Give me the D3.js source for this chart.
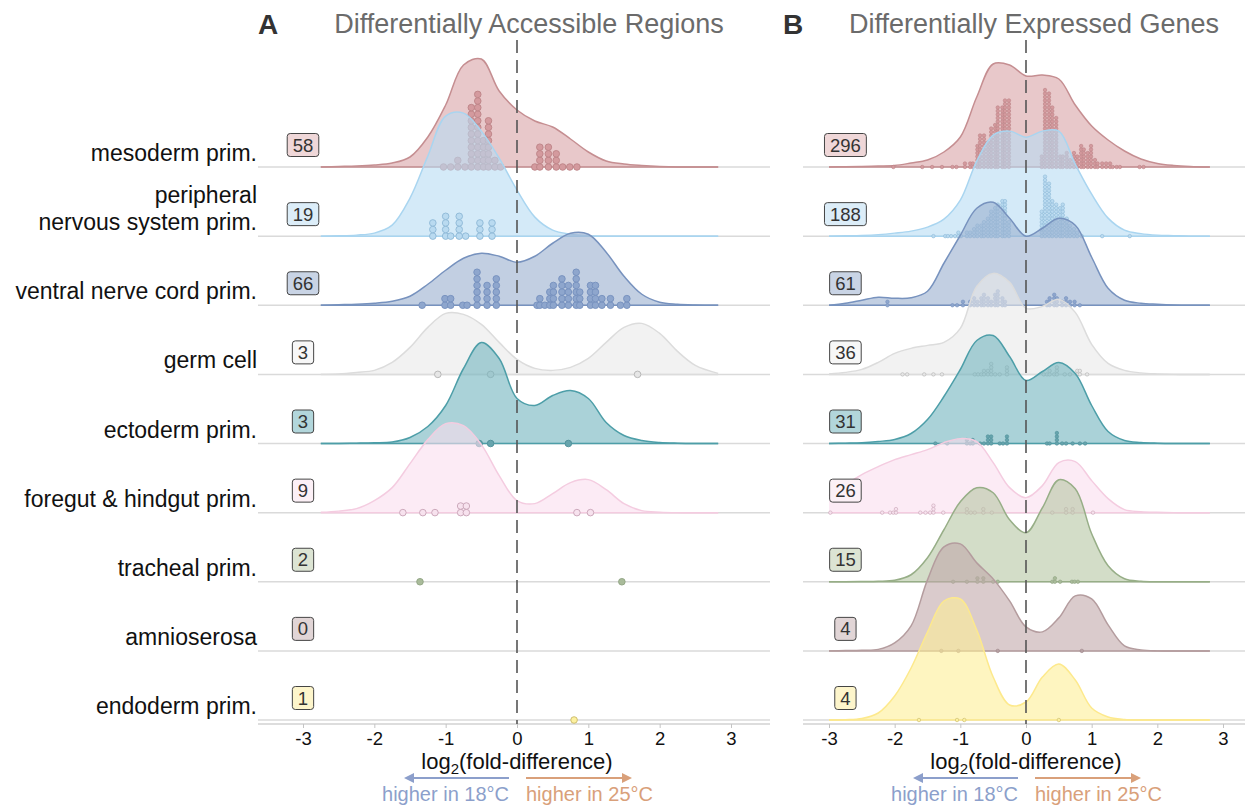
<!DOCTYPE html>
<html>
<head>
<meta charset="utf-8">
<script src="https://cdn.jsdelivr.net/npm/d3@7"></script>
<style>
  body { margin: 0; background: #fff; }
  text { font-family: "Liberation Sans", Arial, sans-serif; }
</style>
</head>
<body>
<svg id="chart" width="1248" height="805"></svg>
<script>
// ---- data ----
const categories = ["mesoderm", "pns", "vnc", "germ", "ectoderm", "foregut", "tracheal", "amnioserosa", "endoderm"];
const rowLabels = [["mesoderm prim."], ["peripheral", "nervous system prim."], ["ventral nerve cord prim."],
  ["germ cell"], ["ectoderm prim."], ["foregut & hindgut prim."], ["tracheal prim."], ["amnioserosa"], ["endoderm prim."]];
const tickLabels = [-3, -2, -1, 0, 1, 2, 3];

const countsA = [58, 19, 66, 3, 3, 9, 2, 0, 1];
const countsB = [296, 188, 61, 36, 31, 26, 15, 4, 4];

// density evaluated on these log2 fold-difference points
const gridA = [-2.75, -2.5, -2.25, -2, -1.75, -1.5, -1.25, -1, -0.75, -0.5, -0.25, 0,
  0.25, 0.5, 0.75, 1, 1.25, 1.5, 1.75, 2, 2.25, 2.5, 2.82];
const gridB = [-3, -2.75, -2.5, -2.25, -2, -1.75, -1.5, -1.25, -1, -0.75, -0.5, -0.25, 0,
  0.25, 0.5, 0.75, 1, 1.25, 1.5, 1.75, 2, 2.25, 2.5, 2.8];

const densityA = [
  [0, 0.005, 0.01, 0.02, 0.04, 0.10, 0.30, 0.62, 1.02, 1.08, 0.76, 0.57, 0.46, 0.40, 0.28, 0.15, 0.06, 0.03, 0.015, 0.005, 0, 0, 0],
  [0, 0.003, 0.01, 0.03, 0.11, 0.38, 0.80, 1.20, 1.23, 1.05, 0.78, 0.46, 0.19, 0.06, 0.02, 0.005, 0, 0, 0, 0, 0, 0, 0],
  [0, 0.005, 0.01, 0.02, 0.04, 0.09, 0.21, 0.35, 0.47, 0.52, 0.49, 0.43, 0.49, 0.62, 0.72, 0.71, 0.53, 0.29, 0.11, 0.03, 0.01, 0.003, 0],
  [0, 0.005, 0.02, 0.04, 0.12, 0.27, 0.47, 0.61, 0.60, 0.50, 0.32, 0.15, 0.06, 0.04, 0.07, 0.16, 0.32, 0.47, 0.51, 0.41, 0.23, 0.09, 0.01],
  [0, 0, 0.003, 0.007, 0.015, 0.06, 0.17, 0.38, 0.75, 1.01, 0.85, 0.45, 0.38, 0.48, 0.53, 0.45, 0.21, 0.08, 0.03, 0.01, 0.003, 0, 0],
  [0.003, 0.015, 0.04, 0.12, 0.25, 0.49, 0.73, 0.89, 0.87, 0.68, 0.37, 0.12, 0.09, 0.19, 0.30, 0.33, 0.23, 0.09, 0.02, 0.005, 0, 0, 0],
  null, null, null
];
const densityB = [
  [0, 0.003, 0.005, 0.01, 0.015, 0.04, 0.07, 0.15, 0.30, 0.70, 1.03, 1.02, 0.91, 0.92, 0.88, 0.62, 0.41, 0.27, 0.16, 0.08, 0.035, 0.015, 0.005, 0],
  [0, 0.003, 0.007, 0.015, 0.03, 0.05, 0.09, 0.17, 0.36, 0.75, 1.01, 1.05, 0.99, 1.05, 1.05, 0.72, 0.42, 0.18, 0.06, 0.025, 0.01, 0.005, 0, 0],
  [0, 0.02, 0.05, 0.08, 0.07, 0.075, 0.14, 0.42, 0.70, 0.97, 1.03, 0.87, 0.69, 0.77, 0.87, 0.80, 0.48, 0.17, 0.05, 0.02, 0.01, 0.003, 0, 0],
  [0.005, 0.02, 0.05, 0.12, 0.21, 0.26, 0.29, 0.32, 0.46, 0.88, 1.01, 0.92, 0.66, 0.68, 0.75, 0.62, 0.30, 0.11, 0.04, 0.015, 0.005, 0, 0, 0],
  [0, 0.003, 0.007, 0.02, 0.04, 0.10, 0.24, 0.47, 0.74, 1.03, 1.08, 0.87, 0.63, 0.72, 0.81, 0.70, 0.38, 0.12, 0.03, 0.01, 0.003, 0, 0, 0],
  [0.17, 0.28, 0.38, 0.46, 0.53, 0.58, 0.63, 0.70, 0.74, 0.71, 0.50, 0.25, 0.15, 0.27, 0.50, 0.51, 0.32, 0.14, 0.03, 0.01, 0.003, 0, 0, 0],
  [0, 0, 0.002, 0.005, 0.015, 0.07, 0.24, 0.52, 0.80, 0.94, 0.89, 0.62, 0.49, 0.74, 1.02, 0.93, 0.48, 0.16, 0.03, 0.005, 0, 0, 0, 0],
  [0, 0.003, 0.007, 0.015, 0.08, 0.25, 0.71, 1.04, 1.07, 0.88, 0.72, 0.50, 0.24, 0.19, 0.33, 0.55, 0.52, 0.26, 0.05, 0.01, 0, 0, 0, 0],
  [0, 0.003, 0.015, 0.07, 0.24, 0.52, 0.88, 1.19, 1.21, 0.90, 0.43, 0.15, 0.18, 0.43, 0.56, 0.40, 0.12, 0.03, 0.005, 0, 0, 0, 0, 0]
];

// dots: [log2 fold-difference, number stacked at that value]
const dotsA = [
  [[-1.03,1],[-0.93,1],[-0.83,2],[-0.73,1],[-0.64,10],[-0.55,12],[-0.47,5],[-0.40,8],[-0.31,2],[-0.23,1],
   [0.25,1],[0.32,4],[0.44,4],[0.55,3],[0.64,1],[0.74,1],[0.84,1]],
  [[-1.18,3],[-1.00,4],[-0.93,1],[-0.81,4],[-0.72,1],[-0.52,3],[-0.35,3]],
  [[-1.33,1],[-1.01,2],[-0.93,2],[-0.76,1],[-0.70,1],[-0.56,6],[-0.42,4],[-0.29,5],
   [0.28,1],[0.32,2],[0.39,1],[0.46,3],[0.51,4],[0.63,5],[0.72,4],[0.83,6],[0.88,3],[1.03,4],[1.10,4],[1.19,2],[1.31,2],[1.45,1],[1.54,2]],
  [[-1.11,1],[-0.37,1],[1.69,1]],
  [[-0.53,1],[-0.37,1],[0.72,1]],
  [[-1.60,1],[-1.32,1],[-1.15,1],[-0.79,2],[-0.71,2],[0.84,1],[1.03,1]],
  [[-1.36,1],[1.47,1]],
  [],
  [[0.80,1]]
];
const dotsB = [
  [[-2.02,1],[-1.58,1],[-1.43,1],[-1.28,1],[-1.12,1],[-1.06,1],[-0.93,2],[-0.85,2],[-0.81,2],[-0.74,7],[-0.70,10],
   [-0.64,10],[-0.58,8],[-0.53,12],[-0.47,13],[-0.43,18],[-0.36,18],[-0.32,20],[-0.26,20],
   [0.24,4],[0.29,23],[0.35,22],[0.40,18],[0.46,15],[0.52,4],[0.56,4],[0.62,5],[0.67,3],[0.73,5],[0.78,4],[0.84,7],
   [0.88,6],[0.94,5],[0.99,7],[1.05,3],[1.09,2],[1.16,2],[1.22,2],[1.28,2],[1.32,1],[1.38,1],[1.43,1],[1.73,1],[1.79,1]],
  [[-1.41,1],[-1.23,1],[-1.19,1],[-1.14,1],[-1.08,1],[-1.03,2],[-0.99,1],[-0.90,2],[-0.85,2],[-0.79,3],[-0.74,4],
   [-0.68,4],[-0.64,5],[-0.58,6],[-0.53,8],[-0.47,9],[-0.43,10],[-0.36,11],[-0.32,11],[-0.26,5],
   [0.24,8],[0.29,18],[0.35,16],[0.40,11],[0.46,10],[0.52,9],[0.56,10],[0.62,6],[0.67,4],[0.73,3],[0.78,2],[0.85,1],[1.16,1],[1.58,1]],
  [[-2.11,2],[-1.12,1],[-1.05,1],[-0.96,2],[-0.85,2],[-0.79,3],[-0.74,2],[-0.68,3],[-0.64,4],[-0.58,3],[-0.53,2],
   [-0.47,4],[-0.43,5],[-0.36,3],[-0.32,2],[0.32,2],[0.36,3],[0.43,4],[0.47,3],[0.55,2],[0.61,3],[0.67,2],[0.74,2],[0.82,1]],
  [[-1.88,1],[-1.81,1],[-1.55,1],[-1.41,1],[-1.28,1],[-0.78,1],[-0.73,1],[-0.68,1],[-0.64,2],[-0.58,2],[-0.53,4],
   [-0.47,1],[-0.40,1],[-0.29,3],[0.27,1],[0.32,1],[0.36,2],[0.43,1],[0.47,3],[0.59,1],[0.67,1],[0.78,2],[0.82,2],[0.93,1]],
  [[-1.38,1],[-1.20,1],[-0.90,2],[-0.85,1],[-0.81,2],[-0.70,1],[-0.64,1],[-0.58,3],[-0.53,3],[-0.40,1],[-0.35,1],
   [-0.29,3],[0.32,1],[0.36,1],[0.47,4],[0.55,1],[0.61,1],[0.71,1],[0.82,1],[0.90,1]],
  [[-2.98,1],[-2.19,1],[-2.07,1],[-2.02,1],[-1.98,2],[-1.61,1],[-1.53,1],[-1.46,1],[-1.41,3],[-1.26,1],[-0.90,2],
   [-0.84,1],[-0.78,1],[-0.65,2],[-0.52,1],[0.40,1],[0.61,2],[0.71,2],[1.02,1]],
  [[-1.11,1],[-0.90,1],[-0.74,2],[-0.65,2],[-0.50,1],[-0.43,1],[0.40,1],[0.44,2],[0.52,1],[0.70,1],[0.74,1],[0.79,1]],
  [[-1.29,1],[-1.03,1],[-0.43,1],[0.85,1]],
  [[-1.63,1],[-1.05,1],[-0.94,1],[0.50,1]]
];

// ---- styles ----
const ridgeFill   = ["#d9a3a7", "#b7dcf3", "#99afcf", "#e9e9e9", "#71b4be", "#fadeee", "#b6c6a3", "#c1a8aa", "#fdee96"];
const ridgeStroke = ["#c58e91", "#a9d5f0", "#7792be", "#dcdcdc", "#4d9ea8", "#f4cce0", "#97ae87", "#b49c9e", "#fde98c"];
const dotFill     = ["#d49a9e", "#b9daf0", "#8ea6cd", "#e6e6e6", "#66a4ad", "#f7e2ee", "#a9bb9a", "#b59fa2", "#fdf1a0"];
const dotStroke   = ["#bc8387", "#8db8d6", "#7590bd", "#b3b3b3", "#4e8f99", "#c7a3b6", "#8fa381", "#9d8689", "#c8b868"];
const boxFill     = ["#efd7d8", "#dcedf8", "#c9d4e5", "#f7f7f7", "#b2d6db", "#fcf0f6", "#dce4d3", "#e1d5d6", "#fdf5cb"];
const blueArrow = "#8c9fcb", orangeArrow = "#d9a07a";

const svg = d3.select("#chart");
const rowY = d3.scalePoint().domain(categories).range([167, 720]);
const hScale = d3.scaleLinear().domain([0, 1]).range([0, 100]);
const axisY = 724;
const curve = d3.curveCatmullRom.alpha(0.5);

const panels = [
  { letter: "A", letterX: 268, title: "Differentially Accessible Regions", titleX: 529,
    x: d3.scaleLinear().domain([-3, 3]).range([303, 731]), left: 258, right: 770,
    grid: gridA, dens: densityA, dots: dotsA, counts: countsA, boxAt: -3, r: 3.3 },
  { letter: "B", letterX: 793, title: "Differentially Expressed Genes", titleX: 1034,
    x: d3.scaleLinear().domain([-3, 3]).range([829, 1223]), left: 803, right: 1245,
    grid: gridB, dens: densityB, dots: dotsB, counts: countsB, boxAt: -2.75, r: 1.75 }
];

// row labels (left of panel A)
categories.forEach((c, i) => {
  const lines = rowLabels[i];
  const t = svg.append("text").attr("text-anchor", "end").attr("font-size", 23).attr("fill", "#111");
  lines.forEach((s, k) => {
    t.append("tspan").attr("x", 257).attr("y", rowY(c) - 6 - (lines.length - 1 - k) * 27).text(s);
  });
});

panels.forEach(p => {
  const x = p.x;
  const g = svg.append("g");

  // titles
  g.append("text").attr("x", p.letterX).attr("y", 34).attr("text-anchor", "middle")
    .attr("font-size", 28).attr("font-weight", "bold").attr("fill", "#333").text(p.letter);
  g.append("text").attr("x", p.titleX).attr("y", 33).attr("text-anchor", "middle")
    .attr("font-size", 27).attr("fill", "#6b6b6b").text(p.title);

  // grid lines
  g.selectAll(".grid").data(categories).join("line")
    .attr("x1", p.left).attr("x2", p.right)
    .attr("y1", d => rowY(d)).attr("y2", d => rowY(d))
    .attr("stroke", "#dadada").attr("stroke-width", 1.5);
  g.append("line").attr("x1", p.left).attr("x2", p.right).attr("y1", axisY).attr("y2", axisY)
    .attr("stroke", "#d2d2d2").attr("stroke-width", 1.5);

  // ridges, in row order so lower rows overlay upper ones
  categories.forEach((c, i) => {
    const base = rowY(c);
    const dens = p.dens[i];
    if (dens) {
      const pts = dens.map((v, j) => [p.grid[j], v]);
      const area = d3.area().x(d => x(d[0])).y0(base).y1(d => base - hScale(d[1])).curve(curve);
      const line = d3.line().x(d => x(d[0])).y(d => base - hScale(d[1])).curve(curve);
      g.append("path").attr("d", area(pts)).attr("fill", ridgeFill[i]).attr("fill-opacity", 0.6);
      g.append("path").attr("d", line(pts)).attr("fill", "none").attr("stroke", ridgeStroke[i]).attr("stroke-width", 1.5);
      g.append("line").attr("x1", x(p.grid[0])).attr("x2", x(p.grid[p.grid.length - 1]))
        .attr("y1", base).attr("y2", base).attr("stroke", ridgeStroke[i]).attr("stroke-width", 1.5);
    }
    const dots = [];
    p.dots[i].forEach(([v, n]) => { for (let k = 0; k < n; k++) dots.push({ v, k }); });
    g.append("g").selectAll("circle").data(dots).join("circle")
      .attr("cx", d => x(d.v)).attr("cy", d => base - d.k * p.r * 2)
      .attr("r", p.r).attr("fill", dotFill[i]).attr("stroke", dotStroke[i])
      .attr("stroke-width", p.r > 2 ? 0.9 : 0.6);
  });

  // count boxes
  categories.forEach((c, i) => {
    const cy = rowY(c) - 22, cx = x(p.boxAt);
    const bg = g.append("g");
    const rect = bg.append("rect");
    const t = bg.append("text").attr("x", cx).attr("y", cy + 6.5).attr("text-anchor", "middle")
      .attr("font-size", 18.5).attr("fill", "#333").text(p.counts[i]);
    const w = t.node().getComputedTextLength() + 11;
    rect.attr("x", cx - w / 2).attr("y", cy - 11.5).attr("width", w).attr("height", 23).attr("rx", 3)
      .attr("fill", boxFill[i]).attr("stroke", "#444").attr("stroke-width", 1);
  });

  // zero line
  g.append("line").attr("x1", x(0)).attr("x2", x(0)).attr("y1", 40).attr("y2", axisY)
    .attr("stroke", "#555").attr("stroke-width", 1.6).attr("stroke-dasharray", "13,7");

  // axis
  const ax = g.append("g").attr("transform", `translate(0,${axisY})`)
    .call(d3.axisBottom(x).tickValues(tickLabels).tickSize(4).tickPadding(4).tickFormat(d => String(d)));
  ax.select(".domain").remove();
  ax.attr("font-size", 18.5).attr("font-family", '"Liberation Sans", Arial, sans-serif');
  ax.selectAll("line").attr("stroke", "#c4c4c4");
  ax.selectAll("text").attr("fill", "#111");

  // axis title
  const x0 = x(0);
  const at = g.append("text").attr("x", x0).attr("y", 769).attr("text-anchor", "middle")
    .attr("font-size", 22).attr("fill", "#111");
  at.append("tspan").text("log");
  at.append("tspan").attr("font-size", 15).attr("dy", 5).text("2");
  at.append("tspan").attr("dy", -5).text("(fold-difference)");

  // direction arrows
  const ay = 778;
  g.append("line").attr("x1", x0 - 8).attr("x2", x0 - 104).attr("y1", ay).attr("y2", ay)
    .attr("stroke", blueArrow).attr("stroke-width", 2);
  g.append("path").attr("d", `M${x0 - 113},${ay} L${x0 - 103},${ay - 5} L${x0 - 103},${ay + 5} Z`).attr("fill", blueArrow);
  g.append("line").attr("x1", x0 + 9).attr("x2", x0 + 106).attr("y1", ay).attr("y2", ay)
    .attr("stroke", orangeArrow).attr("stroke-width", 2);
  g.append("path").attr("d", `M${x0 + 115},${ay} L${x0 + 105},${ay - 5} L${x0 + 105},${ay + 5} Z`).attr("fill", orangeArrow);
  g.append("text").attr("x", x0 - 8).attr("y", 801).attr("text-anchor", "end")
    .attr("font-size", 20).attr("fill", blueArrow).text("higher in 18°C");
  g.append("text").attr("x", x0 + 9).attr("y", 801).attr("text-anchor", "start")
    .attr("font-size", 20).attr("fill", orangeArrow).text("higher in 25°C");
});
</script>
</body>
</html>
